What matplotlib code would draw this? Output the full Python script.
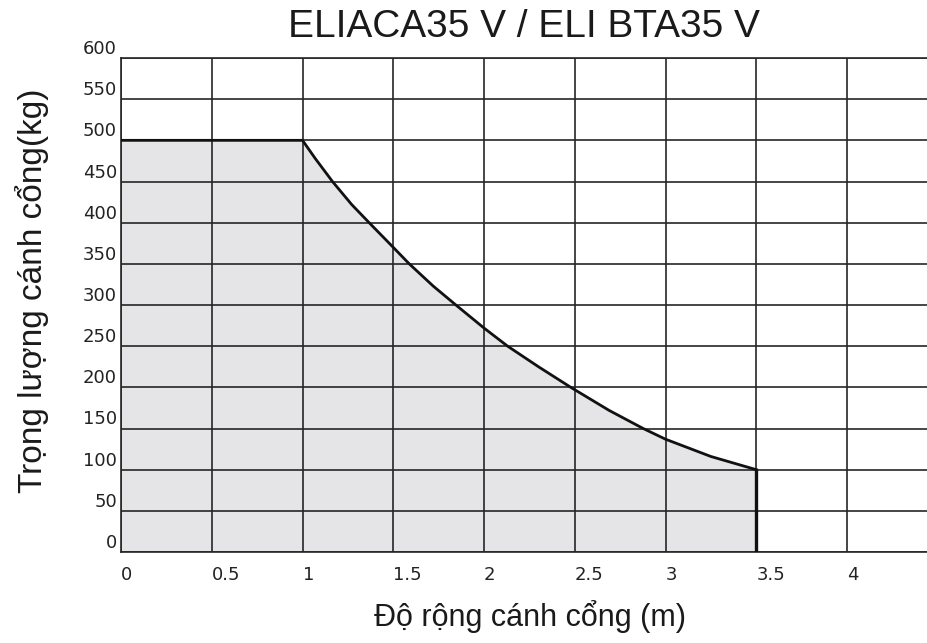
import matplotlib
matplotlib.use("Agg")
import matplotlib.pyplot as plt

# Data
width_m = [0.0, 1.0, 1.07, 1.165, 1.271, 1.367, 1.5, 1.588, 1.72, 1.845, 2.0, 2.13,
           2.30, 2.478, 2.689, 2.877, 3.0, 3.25, 3.5]
weight_kg = [500, 500, 478, 450, 422, 400, 370, 350, 323, 300, 272, 250,
             225, 200, 172, 150, 137, 116, 100]

x_ticks = [0, 0.5, 1, 1.5, 2, 2.5, 3, 3.5, 4]
x_tick_labels = ["0", "0.5", "1", "1.5", "2", "2.5", "3", "3.5", "4"]
y_ticks = [0, 50, 100, 150, 200, 250, 300, 350, 400, 450, 500, 550, 600]
y_tick_labels = [str(v) for v in y_ticks]

title = "ELIACA35 V / ELI BTA35 V"
xlabel = "Độ rộng cánh cổng (m)"
ylabel = "Trọng lượng cánh cổng(kg)"

W, H = 928, 643
fig = plt.figure(figsize=(W / 100, H / 100), dpi=100)
ax = fig.add_axes([121 / W, 1 - 552 / H, (W - 121) / W, (552 - 58) / H])

grid_c = "#262626"
ax.set_xlim(0, 4.446)
ax.set_ylim(0, 600)

# fill region
fx = [width_m[0]] + width_m + [width_m[-1]]
fy = [0] + weight_kg + [0]
ax.fill(fx, fy, color="#e5e5e8", zorder=1, lw=0)

# grid
ax.set_xticks(x_ticks)
ax.set_yticks(y_ticks)
ax.grid(True, color=grid_c, lw=1.2, zorder=2)
ax.set_axisbelow(False)
ax.spines["right"].set_visible(False)
for s in ["left", "bottom", "top"]:
    ax.spines[s].set_color(grid_c)
    ax.spines[s].set_linewidth(1.2)

# curve
ax.plot(width_m, weight_kg, color="#111111", lw=2.0, zorder=4,
        solid_joinstyle="round")
ax.plot([width_m[-1], width_m[-1]], [0, weight_kg[-1]], color="#111111", lw=2.4, zorder=4)

tick_font = dict(family=["DejaVu Sans"], size=13, color="#222222")
ax.set_xticklabels(x_tick_labels, **tick_font)
ax.set_yticklabels(y_tick_labels, **tick_font)
ax.tick_params(axis="both", length=0)
ax.tick_params(axis="x", pad=10)
ax.tick_params(axis="y", pad=3)
for lab in ax.get_xticklabels():
    lab.set_ha("left")
for lab in ax.get_yticklabels():
    lab.set_va("bottom")

lab_font = ["Liberation Sans", "DejaVu Sans"]
fig.text(524 / W, 1 - 27 / H, title, ha="center", va="center",
         family=lab_font, size=28, color="#1a1a1a")
fig.text(530 / W, 1 - 617 / H, xlabel, ha="center", va="center",
         family=lab_font, size=22, color="#1a1a1a")
fig.text(32 / W, 1 - 291 / H, ylabel, ha="center", va="center", rotation=90,
         family=lab_font, size=24, color="#1a1a1a")

fig.savefig("out.png", dpi=100)
